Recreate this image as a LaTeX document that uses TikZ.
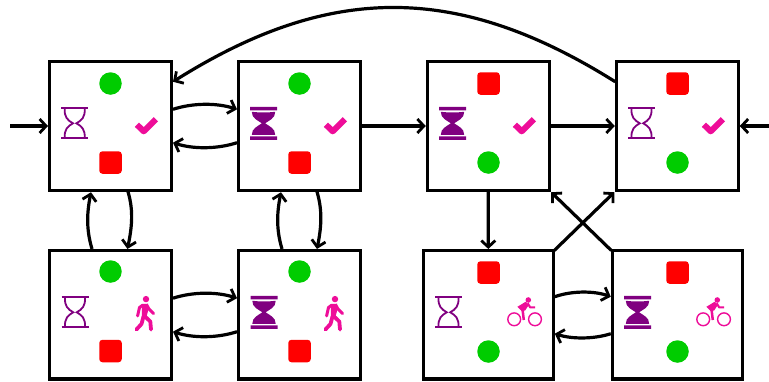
\documentclass[tikz,border=0pt]{standalone}
\usetikzlibrary{arrows.meta}
\definecolor{hgpurple}{HTML}{800080}
\definecolor{iconpink}{HTML}{EE0D99}
\definecolor{lampgreen}{HTML}{00CC00}
\definecolor{lampred}{HTML}{FF0000}
\tikzset{
  statebox/.style={draw=black,line width=3.2pt,fill=white,rectangle,outer sep=0pt,inner sep=0pt,minimum width=122pt,minimum height=128.5pt},
  widebox/.style={statebox,minimum width=130pt},
  link/.style={draw=black,line width=3.2pt,-{Straight Barb[length=6.5pt,width=14pt,line width=2.8pt]}},
  greenlamp/.style={circle,fill=lampgreen,minimum size=22.5pt,inner sep=0pt,outer sep=0pt},
  redlamp/.style={rectangle,rounded corners=3.2pt,fill=lampred,minimum size=22.5pt,inner sep=0pt,outer sep=0pt},
  hollowglass/.pic={
    \draw[hgpurple,line width=1.8pt] (-13.5,-15)--(13.5,-15) (-13.5,15)--(13.5,15);
    \draw[hgpurple,line width=1.8pt]
      (-10,-15) .. controls (-10.6,-6) and (-7,-3) .. (-1.7,0) .. controls (-7,3) and (-10.6,6) .. (-10,15)
      (10,-15) .. controls (10.6,-6) and (7,-3) .. (1.7,0) .. controls (7,3) and (10.6,6) .. (10,15);
  },
  filledglass/.pic={
    \fill[hgpurple] (-13.5,-16.5) rectangle (13.5,-13) (-13.5,13) rectangle (13.5,16.5);
    \fill[hgpurple] (-11.7,-11.5) .. controls (-4,-10.6) and (4,-10.6) .. (11.7,-11.5)
      .. controls (12,-5) and (5,-2.5) .. (1.6,0)
      .. controls (5,2.5) and (12,5) .. (11.7,11.5)
      -- (-11.7,11.5) .. controls (-12,5) and (-5,2.5) .. (-1.6,0)
      .. controls (-5,-2.5) and (-12,-5) .. (-11.7,-11.5) -- cycle;
  },
  tickmark/.pic={
    \draw[iconpink,line width=6pt,line join=round] (-9.6,-0.6) -- (-2.8,6) -- (9.4,-6);
  },
  walker/.pic={
    \fill[iconpink] (1,-15.4) circle (3.2);
    \fill[iconpink] (-3.2,-10.5) -- (3,-10.8) -- (3.4,-5) -- (1.2,3.5) -- (-3.2,3.5) -- cycle;
    \draw[iconpink,line width=3pt,line cap=round,line join=round] (-2.5,-9.2) -- (-5.5,-7) -- (-7.4,1.4);
    \draw[iconpink,line width=3pt,line cap=round,line join=round] (2,-9) -- (4,-5.5) -- (8.6,-1);
    \draw[iconpink,line width=3.8pt,line cap=round,line join=round] (0,2) -- (5.3,7) -- (6,15);
    \draw[iconpink,line width=3.8pt,line cap=round,line join=round] (-1.5,2) -- (-3.5,9.5) -- (-8.6,15);
  },
  cyclist/.pic={
    \draw[iconpink,line width=1.4pt] (-10.4,7.3) circle (6.4) (10.4,7.3) circle (6.4);
    \fill[iconpink] (3.7,-12) circle (2.8);
    \fill[iconpink] (-7.2,-5.2) -- (1,-10.2) -- (4.5,-7.5) -- (0.5,-1.5) -- (-2.8,-0.8) -- cycle;
    \draw[iconpink,line width=2.1pt,line join=round] (3.2,-8.5) -- (5.6,-4.6) -- (10.6,-4.6);
    \draw[iconpink,line width=2.5pt] (-2,-2) -- (-0.8,8);
  }
}
\begin{document}
\begin{tikzpicture}[x=1pt,y=-1pt]
\useasboundingbox (0,0) rectangle (769,381);
\node[statebox] (b1) at (110.5,126) {};
\node[statebox] (b2) at (299.5,126) {};
\node[statebox] (b3) at (488.25,126) {};
\node[statebox] (b4) at (677.25,126) {};
\node[statebox] (b5) at (110.5,314.7) {};
\node[statebox] (b6) at (299.5,314.7) {};
\node[widebox] (b7) at (488.3,314.7) {};
\node[widebox] (b8) at (677.3,314.7) {};
\coordinate (inL) at (10,126);
\coordinate (inR) at (769,126);
% top row lamps
\node[greenlamp] (g1) at (110.5,83.5) {};
\node[redlamp] (r1) at (110.5,162.5) {};
\node[greenlamp] (g2) at (299.5,83.5) {};
\node[redlamp] (r2) at (299.5,162.5) {};
\node[redlamp] (r3) at (488.5,83.5) {};
\node[greenlamp] (g3) at (488.5,162.5) {};
\node[redlamp] (r4) at (677.5,83.5) {};
\node[greenlamp] (g4) at (677.5,162.5) {};
% bottom row lamps
\node[greenlamp] (g5) at (110.5,271.5) {};
\node[redlamp] (r5) at (110.5,351) {};
\node[greenlamp] (g6) at (299.5,271.5) {};
\node[redlamp] (r6) at (299.5,351) {};
\node[redlamp] (r7) at (488.5,272.5) {};
\node[greenlamp] (g7) at (488.5,351.5) {};
\node[redlamp] (r8) at (677.5,272.5) {};
\node[greenlamp] (g8) at (677.5,351.5) {};
% hourglasses
\pic at (74.7,123.3) {hollowglass};
\pic at (263.5,123.3) {filledglass};
\pic at (452.5,123.3) {filledglass};
\pic at (641.5,123.3) {hollowglass};
\pic at (75,312.3) {hollowglass};
\pic at (264,312.3) {filledglass};
\pic at (448.5,312.3) {hollowglass};
\pic at (637.5,312.3) {filledglass};
% right icons
\pic at (146.5,125.3) {tickmark};
\pic at (335.5,125.3) {tickmark};
\pic at (524.5,125.3) {tickmark};
\pic at (713.5,125.3) {tickmark};
\pic at (145,314.5) {walker};
\pic at (334,314.5) {walker};
\pic at (524.6,312) {cyclist};
\pic at (713.6,312) {cyclist};
% straight links
\draw[link] (inL) -- ([xshift=-1.5pt]b1.west);
\draw[link] (inR) -- ([xshift=1.5pt]b4.east);
\draw[link] ([xshift=1.5pt]b2.east) -- ([xshift=-1.5pt]b3.west);
\draw[link] ([xshift=1.5pt]b3.east) -- ([xshift=-1.5pt]b4.west);
\draw[link] ([yshift=-1.5pt]b3.south) -- ([yshift=1.5pt]b7.north);
\draw[link] ([xshift=1pt,yshift=0pt]b7.north east) -- ([xshift=-2pt,yshift=-2pt]b4.south west);
\draw[link] ([xshift=-1pt,yshift=0pt]b8.north west) -- ([xshift=2pt,yshift=-2pt]b3.south east);
% pairs
\draw[link] ([xshift=1.5pt,yshift=16.7pt]b1.east) .. controls +(20,-6.5) and +(-20,-6.5) .. ([xshift=-1.5pt,yshift=16.7pt]b2.west);
\draw[link] ([xshift=-1.5pt,yshift=-16.7pt]b2.west) .. controls +(-20,6.5) and +(20,6.5) .. ([xshift=1.5pt,yshift=-16.7pt]b1.east);
\draw[link] ([xshift=1.5pt,yshift=16.5pt]b5.east) .. controls +(20,-6.5) and +(-20,-6.5) .. ([xshift=-1.5pt,yshift=16.5pt]b6.west);
\draw[link] ([xshift=-1.5pt,yshift=-17pt]b6.west) .. controls +(-20,6.5) and +(20,6.5) .. ([xshift=1.5pt,yshift=-17pt]b5.east);
\draw[link] ([xshift=1.5pt,yshift=18pt]b7.east) .. controls +(17,-6) and +(-17,-6) .. ([xshift=-1.5pt,yshift=18pt]b8.west);
\draw[link] ([xshift=-1.5pt,yshift=-19pt]b8.west) .. controls +(-17,5.5) and +(17,5.5) .. ([xshift=1.5pt,yshift=-19pt]b7.east);
% vertical pairs
\draw[link] ([xshift=-18.5pt,yshift=1.5pt]b5.north) .. controls +(-6,-20) and +(-4,20) .. ([xshift=-19.5pt,yshift=-2pt]b1.south);
\draw[link] ([xshift=17.5pt,yshift=-1.5pt]b1.south) .. controls +(6,20) and +(4,-20) .. ([xshift=17pt,yshift=1.5pt]b5.north);
\draw[link] ([xshift=-17.5pt,yshift=1.5pt]b6.north) .. controls +(-6,-20) and +(-4,20) .. ([xshift=-18.5pt,yshift=-2pt]b2.south);
\draw[link] ([xshift=17.5pt,yshift=-1.5pt]b2.south) .. controls +(6,20) and +(4,-20) .. ([xshift=17.5pt,yshift=1.5pt]b6.north);
% long return
\draw[link] ([xshift=-1pt,yshift=-20pt]b4.north west) .. controls (458,-17) and (330,-17) .. ([xshift=1.5pt,yshift=-20pt]b1.north east);
\end{tikzpicture}
\end{document}
